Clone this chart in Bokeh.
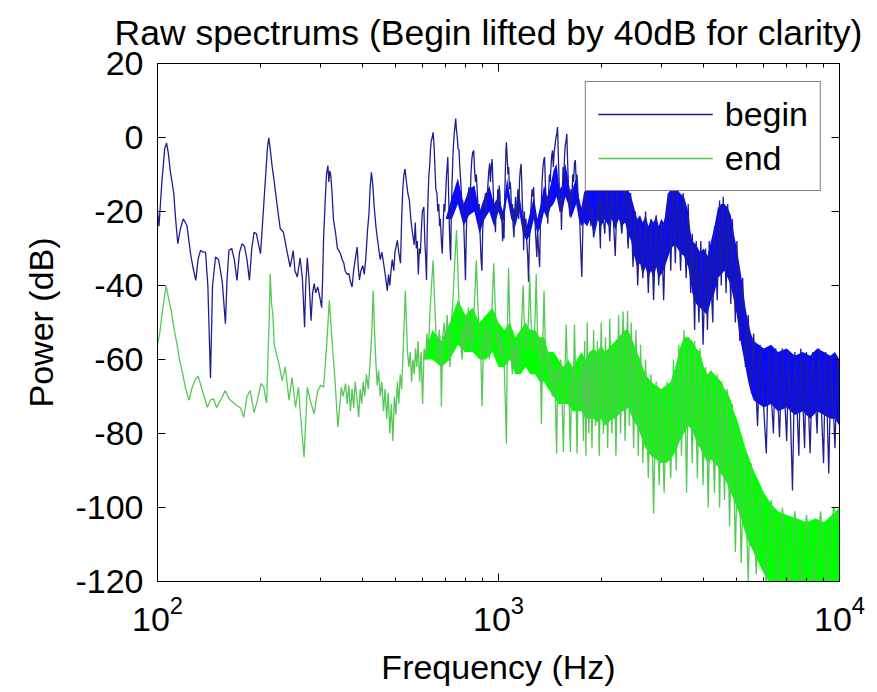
from bokeh.plotting import figure
from bokeh.models import Range1d, LinearAxis, LogAxis, Legend, LegendItem, FixedTicker, CustomJSTickFormatter
from bokeh.embed import file_html
from bokeh.resources import INLINE

FONT = "Liberation Sans"

title_text = "Raw spectrums (Begin lifted by 40dB for clarity)"
x_label = "Frequency (Hz)"
y_label = "Power (dB)"
x_major = [100, 1000, 10000]
x_minor = [200, 300, 400, 500, 600, 700, 800, 900,
           2000, 3000, 4000, 5000, 6000, 7000, 8000, 9000]
y_ticks = [-120, -100, -80, -60, -40, -20, 0, 20]

# ---- "begin" spectrum (lifted by 40 dB): traced line ----
begin_freq = [100, 101, 103, 105, 106.3, 107.5, 109, 111.6, 113, 114.7, 116.5, 119, 122, 125, 127, 129.5,
              131.5, 133.7, 136, 138.3, 140.5, 143, 145, 148, 151, 153, 155, 158.2, 160, 162, 165, 168,
              171, 174, 177, 180, 183, 186, 189, 192, 195, 198, 200.5, 203, 205, 208, 210, 212, 214, 217,
              220, 224, 227, 229, 234, 240, 245, 250, 253, 257, 262, 266, 270, 272, 275, 278, 282, 285,
              288, 291, 295, 299, 303, 305, 307, 310, 313, 316, 318, 320, 322, 325, 328, 333, 337, 340,
              344, 348, 352, 355, 360, 364, 368, 372, 376, 380, 385, 388, 391, 395, 400, 404, 408, 413,
              417, 420, 424, 428, 432, 437, 441, 446, 450, 455, 462, 467, 472, 476, 480, 484, 488, 493,
              497, 502, 505, 510, 516, 520, 524, 528, 532, 537, 542, 548, 553, 558, 562, 566, 570, 574,
              578, 582, 586, 590, 594, 598, 604, 608, 612, 615, 618, 622, 625, 628, 632, 635, 639, 643,
              647, 651, 655, 660, 664, 668, 672, 675, 680, 684, 688, 692, 696, 700, 704, 707, 710, 714,
              718, 721, 724, 727, 731, 735, 740, 745, 749, 753, 757, 761, 766, 770, 775, 780, 785, 790,
              795, 800, 805, 810, 815, 820, 826, 830, 835, 840, 846, 850, 856, 861, 866, 872, 878, 884,
              889, 894, 899, 905, 910, 915, 920, 926, 932, 937, 942, 947, 952, 958, 963, 968, 973, 980,
              985, 990, 995, 1000, 1005, 1010, 1016, 1022, 1028, 1033, 1038, 1043, 1048, 1052, 1055, 1060,
              1066, 1071, 1077, 1082, 1087, 1093, 1099, 1104, 1110, 1116, 1122, 1127, 1133, 1140, 1146, 1152,
              1158, 1165, 1170, 1175, 1180, 1185, 1191, 1197, 1204, 1210, 1218, 1225, 1232, 1240, 1247, 1254,
              1261, 1268, 1275, 1281, 1288, 1295, 1302, 1310, 1320, 1327, 1335, 1342, 1350, 1358, 1365, 1372,
              1380, 1388, 1395, 1403, 1410, 1418, 1425, 1432, 1440, 1448, 1456, 1465, 1474, 1482, 1490, 1498,
              1506, 1514, 1522, 1530, 1538, 1546, 1554, 1562, 1570, 1578, 1586, 1594, 1602, 1610, 1620, 1630,
              1640, 1650, 1660, 1670, 1680, 1690, 1700, 1710, 1720, 1730, 1742, 1755, 1767, 1780, 1792, 1805,
              1820, 1835, 1850, 1866, 1882, 1900, 1950, 1960, 1990, 2000, 2050, 2080, 2120, 2150, 2200, 2230,
              2300, 2350, 2400, 2440, 2480, 2520, 2560, 2600, 2650, 2700, 2750, 2800, 2850, 2900, 2950, 3000,
              3050, 3100, 3150, 3200, 3250, 3300, 3350, 3420, 3480, 3550, 3600, 3660, 3700, 3760, 3800, 3870,
              3920, 3980, 4050, 4100, 4150, 4250, 4300, 4380, 4450, 4500, 4560, 4650, 4700, 4800, 4850, 4950,
              5000, 5100, 5200, 5300, 5400, 5500, 5600, 5750, 5850, 6100, 6200, 6400, 6500, 6670, 6800, 7000,
              7100, 7280, 7400, 7600, 7700, 7900, 8000, 8200, 8350, 8600, 8700, 8980, 9100, 9300, 9450, 9700,
              9850, 10000]
begin_db = [-20, -24, -12, -3, -1.5, -4, -9, -15, -22, -28.7, -25, -22, -23.8, -31.4, -35, -38.6,
            -33, -30.5, -31, -31, -40, -65, -40, -32.3, -33, -36, -39.5, -50.3, -38, -30.5, -30, -33,
            -38.6, -31, -28.7, -29.5, -33, -38.6, -30, -25.6, -26, -29, -31.4, -24, -17.9, -9, -3, -0.1, -3, -8,
            -12, -17.9, -22, -24.6, -25.6, -31, -35, -30.6, -36, -37.7, -32.5, -38, -51.3, -40, -32.5, -38, -49.5, -42,
            -39.5, -42, -40.4, -43, -46, -38, -27, -18, -10, -7.6, -12, -9, -10, -15, -22, -26, -30, -30.5,
            -31.4, -33, -34, -36, -37, -36.8, -39, -40.4, -36, -33, -29.6, -35, -38.5, -36, -34.6, -37, -33, -25,
            -20.6, -14, -9.4, -13, -18.7, -24, -27, -30.5, -33, -31, -35, -38, -41.4, -37, -40, -36, -33, -36,
            -31, -29, -27.8, -31, -34, -22, -14, -10, -8.5, -12, -15, -17, -22, -25, -27, -29, -23, -30,
            -28, -37, -30, -31.4, -25, -20, -18.8, -28, -33, -38.5, -25, -15, -10, -8, -3, -1, 0, 1.4,
            -2, -8, -14, -15.2, -20, -18, -24, -22, -28, -31.4, -24, -18, -20, -15.2, -10, -8, -5.3, -15,
            -25, -30, -33.2, -20, -12, -5, 0, 3, 5.1, 2, 0, -3, -3.4, -8, -12, -17, -17, -22,
            -30, -38.6, -25, -18, -15, -13.4, -18, -10, -6, -4, -3.5, -8, -12, -10, -14.3, -20, -18, -27,
            -33, -36, -25, -20, -22, -15, -19, -17, -12, -9, -7, -12, -8, -5.8, -12, -18, -22, -25.6,
            -17, -20, -14, -18, -13, -15.7, -22, -20, -28, -23, -27.3, -16, -8, -3, -1.3, -5,
            -10, -8, -14, -12, -14.3, -22, -18, -24, -27, -20, -16, -22, -18.8, -14, -22, -12,
            -9, -7.1, -12, -18, -22, -30.5, -20, -26, -22, -28, -32, -39, -28, -22, -18, -14,
            -16, -13.4, -20, -24, -28, -32.3, -25, -30, -35, -24, -18, -12, -8, -6, -5.3, -12,
            -18, -16, -23.3, -15, -10, -12, -8, -5, -3.5, -8, -4, -2, 0, 1, 2.8, -5,
            -12, -20, -16, -25, -15, -8, -12, -5, -2, -1, 1, -6, -12, -18, -21.4, -14,
            -18, -10, -12, -7, -6.1, -12, -10, -15, -17.8, -22, -30, -37.7, -25, -18, -20, -14,
            -15.7, -20, -18, -24, -19, -27, -22, -14, -30, -16, -26, -12, -28, -15, -32, -14,
            -26, -12, -30, -15, -35, -20, -40, -22, -38, -20, -42, -22, -44, -21, -40, -23,
            -44, -20, -15, -36, -12, -34, -13, -36, -15, -38, -18, -42, -26, -52, -28, -50,
            -28, -56, -30, -52, -28, -50, -24, -44, -17, -40, -16, -42, -18, -45, -22, -50,
            -28, -55, -38, -62, -48, -68, -53, -78, -56, -85.4, -57, -80, -57, -81, -57, -82,
            -58, -95.4, -58, -86, -57, -84, -58, -85.3, -58, -80, -57, -88, -58, -90.8, -59, -84,
            -60, -62]

# ---- "begin" spectrum: dense region envelope (upper / lower edge) ----
begin_band_freq = [700, 730, 760, 790, 820, 850, 880, 910, 940, 970, 1000, 1030, 1060, 1090, 1120, 1150,
                   1180, 1210, 1240, 1270, 1300, 1330, 1360, 1390, 1420, 1450, 1480, 1510, 1540, 1570, 1600, 1630,
                   1660, 1690, 1720, 1750, 1780, 1820, 1860, 1900, 1950, 2000, 2050, 2100, 2150, 2200, 2250, 2300,
                   2350, 2400, 2450, 2500, 2550, 2600, 2650, 2700, 2750, 2800, 2850, 2900, 2950, 3000, 3050, 3100,
                   3150, 3200, 3300, 3400, 3500, 3600, 3650, 3700, 3800, 3900, 4000, 4100, 4200, 4300, 4400, 4500,
                   4600, 4700, 4800, 4900, 5000, 5100, 5200, 5300, 5400, 5500, 5600, 5800, 6000, 6300, 6600, 7000,
                   7400, 7800, 8200, 8600, 9000, 9400, 9700, 10000]
begin_band_hi = [-22, -16, -11, -18, -14, -13, -20, -16, -13, -18, -16, -20, -11, -18, -20, -15,
                 -22, -24, -20, -16, -22, -18, -13, -16, -13, -9, -7, -14, -13, -7, -11, -16,
                 -13, -11, -16, -19, -15, -13, -14, -14, -13, -14, -12, -14, -13, -14, -12, -14,
                 -12, -14, -16, -19, -22, -21, -23, -21, -24, -22, -23, -21, -24, -22, -23, -20,
                 -15, -14, -13, -15, -16, -20, -25, -28, -29, -31, -30, -32, -28, -24, -19, -18,
                 -18, -19, -21, -26, -30, -35, -40, -46, -50, -53, -55, -56, -57, -56, -58, -57,
                 -59, -58, -59, -57, -58, -59, -58, -60]
begin_band_lo = [-22, -22, -18, -24, -21, -20, -26, -22, -20, -24, -20, -24, -16, -22, -24, -20,
                 -26, -28, -26, -22, -26, -24, -20, -22, -19, -18, -16, -20, -20, -16, -18, -22,
                 -20, -18, -22, -24, -23, -24, -22, -26, -22, -24, -22, -24, -22, -25, -22, -24,
                 -23, -26, -28, -32, -35, -34, -37, -35, -38, -36, -38, -35, -38, -37, -36, -34,
                 -32, -30, -29, -31, -32, -35, -38, -42, -45, -46, -47, -48, -44, -42, -38, -37,
                 -36, -38, -40, -44, -48, -54, -58, -62, -66, -69, -71, -72, -73, -72, -74, -73,
                 -75, -74, -76, -74, -75, -76, -76, -78]

# ---- "end" spectrum: traced line ----
end_freq = [100, 101.5, 103, 104.5, 106, 107.5, 109.7, 112, 114, 116, 118.5, 121, 123.7, 126, 128.6, 131.6,
            135, 137, 140, 143, 146, 149, 151, 155, 158, 162, 166, 171, 175, 179, 183, 187,
            192, 196, 201, 205, 207, 209, 211, 212.5, 214, 216, 218, 220, 224, 227, 232, 237,
            243, 248, 254, 259, 263, 269, 275, 281, 288, 295, 301, 307, 314, 319, 325, 332,
            338, 346, 350, 356, 360, 364, 368, 372, 376, 380, 385, 389, 393, 397, 401, 405,
            410, 415, 420, 425, 429, 433, 437, 441, 445, 450, 455, 460, 465, 470, 475, 480,
            485, 490, 495, 500, 505, 510, 515, 520, 525, 529, 533, 537, 541, 546, 551, 556,
            561, 566, 571, 576, 581, 587, 593, 599, 605, 611, 617, 623, 629, 636, 643, 650,
            657, 664, 670, 676, 680, 686, 693, 700, 707, 714, 721, 728, 735, 742, 748, 753,
            758, 764, 770, 776, 782, 788, 795, 802, 809, 816, 823, 830, 838, 846, 853, 861,
            869, 877, 886, 895, 904, 913, 922, 931, 940, 949, 958, 968, 978, 988, 998, 1008,
            1018, 1028, 1040, 1055, 1063, 1070, 1078, 1088, 1098, 1108, 1118, 1128, 1140, 1150, 1160, 1172,
            1181, 1192, 1204, 1216, 1226, 1235, 1246, 1258, 1270, 1281, 1290, 1300, 1312, 1324, 1336, 1348,
            1360, 1372, 1385, 1398, 1410, 1424, 1438, 1452, 1466, 1480, 1494, 1508, 1522, 1535, 1550, 1565,
            1580, 1595, 1610, 1625, 1640, 1655, 1670, 1685, 1700, 1715, 1730, 1745, 1760, 1775, 1790, 1805,
            1820, 1840, 1860, 1880, 1900, 1925, 1950, 1975, 2000, 2030, 2060, 2090, 2120, 2150, 2180, 2210,
            2250, 2280, 2320, 2350, 2390, 2420, 2450, 2490, 2530, 2570, 2610, 2650, 2700, 2750, 2800, 2850,
            2900, 2960, 3000, 3060, 3120, 3200, 3260, 3320, 3380, 3440, 3500, 3560, 3620, 3700, 3760, 3830,
            3900, 3980, 4050, 4120, 4200, 4300, 4380, 4450, 4520, 4600, 4680, 4760, 4850, 4950, 5050, 5150,
            5250, 5400, 5500, 5700, 5850, 6100, 6300, 6600, 6800, 7100, 7400, 7700, 8000, 8400, 8800, 9200,
            9600, 10000]
end_db = [-56, -53, -48, -44, -40, -43, -46.8, -52, -55.7, -60, -63.8, -68, -71, -68, -65.7, -64.5,
          -68, -70, -72.9, -71, -70.6, -73, -72, -70, -68.4, -70.6, -71.5, -72.5, -73, -75.6, -70, -68.4,
          -74.3, -71.3, -66.5, -67.4, -70, -71.8, -58.4, -50, -36.8, -45, -48, -56, -59, -61.1, -65.7, -62,
          -71, -64.8, -72.9, -67.5, -75.6, -86.4, -67.5, -71.3, -74.7, -68.4, -67, -67.5, -54.9, -44, -54.9, -66.5,
          -78.3, -67.5, -70, -66.5, -72, -67, -74, -68, -73, -66, -71, -75.6, -68, -72, -66, -70,
          -64, -68, -61, -52.6, -41.4, -52.6, -61, -67, -63, -70, -66, -74, -68, -76, -69, -80,
          -72, -82, -70, -75, -66, -72, -64, -68, -58, -50, -41.4, -50, -58, -62, -58, -66,
          -60, -64, -57, -62, -55, -66, -58, -72, -57, -60, -53, -58, -48, -40, -33.2, -45,
          -55, -60, -52, -56, -72.7, -54, -50, -56, -48, -54, -62, -50, -44, -36, -30, -25.1,
          -32, -42, -48, -56, -60, -52, -58, -48, -54, -46, -56, -50, -58, -48, -42, -33.2,
          -44, -52, -56, -72.6, -55, -50, -58, -52, -60, -54, -45, -34, -46, -56, -52, -60,
          -54, -58, -62, -82.7, -50, -35.2, -48, -58, -64, -56, -62, -54, -60, -64, -56, -48,
          -40, -52, -58, -54, -48, -37, -50, -58, -56, -48, -36.9, -52, -60, -54, -77.4, -56,
          -41.5, -56, -62, -58, -66, -60, -70, -62, -68, -85.4, -62, -66, -60, -70, -85, -64,
          -50.6, -66, -70, -85, -62, -72, -50.6, -66, -85.4, -64, -72, -60, -62, -82, -55, -86,
          -50, -80, -58, -84, -52, -78, -55, -86, -50, -80, -54, -84, -49, -80, -56, -86,
          -48, -80, -47, -82, -46.8, -78, -50, -84, -52, -86, -56, -88, -60, -92, -64, -101.6,
          -66, -94, -68, -96, -66, -92, -60, -90, -56, -86, -52, -96, -54, -88, -55, -92,
          -57, -94, -62, -100, -63, -96, -64, -100, -66, -98, -68, -105, -72, -112, -78, -115,
          -84, -120, -88, -118, -95, -121, -98, -121, -100, -121, -101, -121, -102, -121, -101, -121,
          -100, -104]

# ---- "end" spectrum: dense region envelope (upper / lower edge) ----
end_band_freq = [600, 640, 680, 720, 760, 800, 840, 880, 920, 960, 1000, 1040, 1080, 1120, 1160, 1200,
                 1240, 1280, 1320, 1360, 1400, 1450, 1500, 1550, 1600, 1650, 1700, 1750, 1800, 1850, 1900, 1950,
                 2000, 2050, 2100, 2150, 2200, 2250, 2300, 2350, 2400, 2450, 2500, 2550, 2600, 2700, 2800, 2900,
                 3000, 3100, 3200, 3300, 3400, 3500, 3600, 3700, 3800, 3900, 4000, 4100, 4200, 4300, 4400, 4500,
                 4600, 4700, 4800, 4900, 5000, 5150, 5300, 5450, 5600, 5800, 6000, 6300, 6600, 7000, 7500, 8000,
                 8500, 9000, 9500, 10000]
end_band_hi = [-60, -52, -55, -50, -44, -48, -46, -50, -48, -46, -50, -52, -50, -54, -52, -50,
               -52, -52, -54, -54, -58, -58, -60, -62, -60, -62, -60, -58, -60, -58, -57, -58,
               -56, -58, -57, -56, -55, -54, -53, -52, -52, -54, -56, -58, -60, -64, -66, -67,
               -68, -67, -66, -62, -57, -54, -54, -55, -57, -58, -62, -64, -63, -64, -65, -66,
               -68, -69, -71, -74, -76, -80, -84, -87, -90, -93, -96, -99, -101, -102, -103, -104,
               -103, -104, -102, -100]
end_band_lo = [-60, -60, -62, -60, -56, -58, -58, -60, -60, -58, -62, -62, -60, -64, -64, -62,
               -64, -64, -66, -66, -68, -70, -72, -72, -72, -74, -74, -74, -76, -76, -76, -77,
               -76, -78, -77, -76, -76, -75, -74, -74, -73, -75, -77, -78, -80, -84, -86, -87,
               -88, -88, -87, -85, -82, -80, -78, -79, -82, -84, -86, -88, -87, -88, -89, -91,
               -92, -94, -96, -98, -100, -103, -107, -110, -112, -115, -118, -121, -122, -122, -122, -122,
               -122, -122, -122, -122]

p = figure(width=877, height=688, x_axis_type="log",
           x_range=Range1d(100, 10000), y_range=Range1d(-120, 20),
           output_backend="svg", toolbar_location=None,
           min_border_left=157, min_border_right=38, min_border_top=63, min_border_bottom=107)

p.varea(x=begin_band_freq, y1=begin_band_lo, y2=begin_band_hi, fill_color="#0a0aff", fill_alpha=1.0)
p.varea(x=end_band_freq, y1=end_band_lo, y2=end_band_hi, fill_color="#00ff00", fill_alpha=1.0)
blue = p.line(begin_freq, begin_db, line_color="#1e1e92", line_width=1.3)
green = p.line(end_freq, end_db, line_color="#55c855", line_width=1.3)

p.title.text = title_text
p.title.text_font = FONT
p.title.text_font_size = "35.5px"
p.title.text_font_style = "normal"
p.title.align = "left"
p.title.offset = -43
p.title.vertical_align = "top"
p.title.standoff = 18
p.title.text_color = "black"

p.outline_line_color = "black"
p.outline_line_width = 1
p.xgrid.visible = False
p.ygrid.visible = False

xa = p.xaxis[0]
xa.ticker = FixedTicker(ticks=x_major, minor_ticks=x_minor)
xa.axis_label = x_label
ya = p.yaxis[0]
ya.ticker = FixedTicker(ticks=y_ticks)
ya.major_label_overrides = {t: str(t) for t in y_ticks}
ya.axis_label = y_label

for ax in (xa, ya):
    ax.axis_label_text_font = FONT
    ax.axis_label_text_font_size = "34px"
    ax.axis_label_text_font_style = "normal"
    ax.axis_label_text_color = "black"
    ax.major_label_text_font = FONT
    ax.major_label_text_font_size = "34px"
    ax.major_label_text_color = "black"
    ax.axis_line_color = "black"
    ax.major_tick_in = 8
    ax.major_tick_out = 0
    ax.minor_tick_in = 4
    ax.minor_tick_out = 0
ya.minor_tick_line_color = None
ya.major_label_standoff = 14
ya.axis_label_standoff = 12
xa.major_label_standoff = 14
xa.axis_label_standoff = 14

blank = CustomJSTickFormatter(code="return ''")
top = LogAxis(ticker=FixedTicker(ticks=x_major, minor_ticks=x_minor), formatter=blank,
              major_tick_in=8, major_tick_out=0, minor_tick_in=4, minor_tick_out=0,
              major_label_standoff=0, axis_line_color="black")
right = LinearAxis(ticker=FixedTicker(ticks=y_ticks), formatter=blank,
                   major_tick_in=8, major_tick_out=0, minor_tick_line_color=None,
                   major_label_standoff=0, axis_line_color="black")
p.add_layout(top, "above")
p.add_layout(right, "right")

legend = Legend(items=[LegendItem(label="begin", renderers=[blue]),
                       LegendItem(label="end", renderers=[green])],
                location="top_right")
legend.label_text_font = FONT
legend.label_text_font_size = "34px"
legend.label_text_color = "black"
legend.glyph_width = 115
legend.glyph_height = 40
legend.label_height = 40
legend.label_standoff = 12
legend.padding = 12
legend.spacing = 4
legend.margin = 18
legend.border_line_color = "black"
legend.border_line_width = 1
legend.background_fill_color = "white"
legend.background_fill_alpha = 1.0
p.add_layout(legend)

open("out.html", "w").write(file_html(p, INLINE))
